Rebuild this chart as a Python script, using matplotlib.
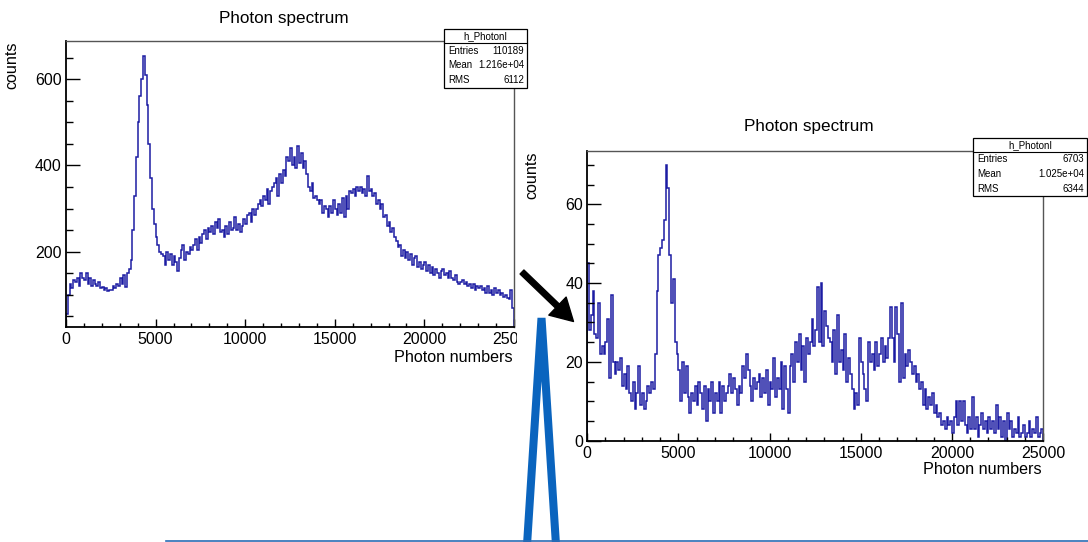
import numpy as np
import matplotlib
matplotlib.use("Agg")
import matplotlib.pyplot as plt
from matplotlib.patches import Rectangle, FancyArrowPatch
from matplotlib.lines import Line2D
from matplotlib.ticker import MultipleLocator

plt.rcParams['font.family'] = ['Liberation Sans', 'DejaVu Sans']

W, H = 1088, 542
BIN_WIDTH = 100
X_MAX = 25000

# large sample, bins of 100 photons from 0 to 25000
counts_big = [
    55, 100, 125, 115, 135, 130, 140, 120, 150, 140,
    135, 150, 125, 140, 120, 135, 125, 120, 130, 115,
    118, 112, 115, 108, 112, 110, 120, 115, 125, 120,
    140, 125, 145, 118, 150, 160, 180, 250, 330, 420,
    500, 560, 600, 655, 610, 540, 450, 370, 300, 265,
    235, 215, 200, 195, 190, 170, 200, 180, 195, 170,
    190, 175, 155, 185, 205, 215, 180, 200, 195, 210,
    205, 215, 230, 205, 235, 220, 240, 250, 230, 255,
    245, 260, 240, 270, 255, 275, 245, 250, 235, 260,
    240, 270, 250, 255, 280, 250, 265, 245, 260, 275,
    265, 285, 290, 270, 300, 285, 300, 310, 320, 305,
    330, 320, 345, 310, 340, 350, 360, 370, 330, 380,
    360, 390, 375, 420, 410, 440, 400, 420, 395, 445,
    405, 430, 395, 410, 380, 350, 340, 360, 325, 330,
    320, 310, 320, 290, 305, 300, 280, 305, 290, 320,
    300, 285, 310, 290, 325, 280, 330, 300, 340, 335,
    345, 330, 350, 340, 350, 335, 345, 330, 375, 340,
    345, 330, 335, 310, 320, 300, 310, 280, 285, 260,
    270, 245, 255, 235, 225, 210, 215, 190, 205, 185,
    200, 180, 195, 170, 185, 190, 165, 175, 160, 170,
    175, 155, 170, 150, 165, 145, 160, 150, 140, 155,
    160, 145, 150, 140, 155, 140, 135, 145, 130, 125,
    130, 135, 125, 130, 120, 125, 115, 125, 110, 120,
    115, 120, 110, 115, 105, 120, 105, 112, 100, 115,
    105, 110, 100, 105, 95, 100, 92, 90, 110, 70,
]

# small sample, same binning
counts_small = [
    45, 28, 32, 38, 27, 26, 35, 22, 24, 22,
    25, 31, 16, 37, 20, 17, 20, 18, 21, 14,
    17, 13, 19, 12, 10, 15, 8, 12, 19, 9,
    12, 8, 10, 14, 12, 15, 13, 22, 38, 47,
    49, 51, 56, 70, 64, 47, 35, 41, 25, 22,
    18, 10, 20, 12, 19, 11, 7, 12, 10, 14,
    9, 15, 12, 8, 14, 5, 13, 10, 15, 7,
    12, 10, 15, 7, 14, 10, 12, 14, 17, 12,
    16, 13, 9, 14, 12, 19, 16, 22, 18, 14,
    10, 16, 13, 15, 17, 11, 16, 12, 18, 9,
    15, 13, 21, 11, 16, 13, 20, 8, 19, 13,
    7, 19, 22, 15, 25, 20, 27, 18, 24, 15,
    26, 22, 25, 31, 24, 28, 39, 25, 40, 24,
    33, 29, 26, 25, 20, 28, 17, 32, 20, 23,
    18, 27, 15, 21, 17, 13, 8, 12, 9, 26,
    20, 17, 13, 10, 25, 20, 22, 18, 25, 19,
    22, 26, 20, 24, 21, 26, 34, 26, 20, 34,
    27, 15, 35, 16, 22, 19, 23, 20, 17, 19,
    15, 17, 13, 15, 9, 13, 8, 11, 9, 12,
    7, 9, 6, 7, 4, 5, 3, 6, 4, 5,
    2, 6, 10, 4, 10, 5, 10, 4, 2, 6,
    3, 11, 3, 6, 1, 4, 7, 3, 5, 2,
    6, 3, 5, 2, 9, 3, 6, 1, 5, 0,
    7, 3, 5, 1, 3, 2, 6, 1, 2, 4,
    1, 2, 5, 1, 3, 2, 6, 1, 2, 3,
]

hist_name = 'h_PhotonI'
stats_big = [('Entries', '110189'), ('Mean', '1.216e+04'), ('RMS', '6112')]
stats_small = [('Entries', '6703'), ('Mean', '1.025e+04'), ('RMS', '6344')]

LINE = '#1c1ca3'
edges = np.arange(0, X_MAX + BIN_WIDTH, BIN_WIDTH)


def fx(x):
    return x / W


def fy(y):
    return 1 - y / H


def add_axes_px(fig, l, t, r, b, z):
    return fig.add_axes([fx(l), fy(b), (r - l) / W, (b - t) / H], zorder=z)


def style_axes(ax, ymaj, ymin_step):
    ax.set_xlim(0, X_MAX)
    ax.xaxis.set_major_locator(MultipleLocator(5000))
    ax.xaxis.set_minor_locator(MultipleLocator(1000))
    ax.yaxis.set_major_locator(MultipleLocator(ymaj))
    ax.yaxis.set_minor_locator(MultipleLocator(ymin_step))
    ax.tick_params(axis='both', which='both', direction='in', top=False, right=False,
                   labelsize=11.5, width=1)
    ax.tick_params(axis='y', which='major', length=10, pad=3)
    ax.tick_params(axis='y', which='minor', length=5)
    ax.tick_params(axis='x', which='major', length=6, pad=4)
    ax.tick_params(axis='x', which='minor', length=3)
    for s in ['left', 'bottom']:
        ax.spines[s].set_linewidth(1.3)
        ax.spines[s].set_color('black')
    for s in ['top', 'right']:
        ax.spines[s].set_linewidth(1.0)
        ax.spines[s].set_color('#555555')


def stats_box(fig, l, t, r, b, name, rows, z):
    fig.add_artist(Rectangle((fx(l), fy(b)), (r - l) / W, (b - t) / H, transform=fig.transFigure,
                             facecolor='white', edgecolor='black', lw=0.9, zorder=z))
    head = t + 14
    fig.add_artist(Line2D([fx(l), fx(r)], [fy(head), fy(head)], transform=fig.transFigure,
                          color='black', lw=0.8, zorder=z + 0.1))
    fig.text(fx((l + r) / 2), fy(t + 7), name, ha='center', va='center', fontsize=7.0, zorder=z + 0.2)
    step = (b - head) / len(rows)
    for i, (k, v) in enumerate(rows):
        yy = head + step * (i + 0.5)
        fig.text(fx(l + 4), fy(yy), k, ha='left', va='center', fontsize=7.0, zorder=z + 0.2)
        fig.text(fx(r - 3), fy(yy), v, ha='right', va='center', fontsize=7.0, zorder=z + 0.2)


fig = plt.figure(figsize=(W / 100, H / 100), dpi=100)

# left (big sample)
ax1 = add_axes_px(fig, 66, 41.3, 514, 326.7, 1)
ax1.stairs(counts_big, edges, color=LINE, lw=1.1)
ax1.set_ylim(26, 688)
style_axes(ax1, 200, 50)
fig.text(fx(284), fy(18), 'Photon spectrum', ha='center', va='center', fontsize=12.3, zorder=1)
fig.text(fx(12), fy(65), 'counts', rotation=90, ha='center', va='center', fontsize=11.6)
fig.text(fx(513), fy(357), 'Photon numbers', ha='right', va='center', fontsize=11.6)
stats_box(fig, 444, 29, 527, 88, hist_name, stats_big, 1.5)

# white background of the second picture
fig.add_artist(Rectangle((fx(517), fy(490)), (W - 517) / W, (490 - 100) / H, transform=fig.transFigure,
                         facecolor='white', edgecolor='none', zorder=2))

# right (small sample)
ax2 = add_axes_px(fig, 587.2, 151, 1043.2, 440.7, 3)
ax2.stairs(counts_small, edges, color=LINE, lw=1.1)
ax2.set_ylim(0, 73.5)
style_axes(ax2, 20, 5)
fig.text(fx(809), fy(127), 'Photon spectrum', ha='center', va='center', fontsize=12.3, zorder=3)
fig.text(fx(532), fy(175), 'counts', rotation=90, ha='center', va='center', fontsize=11.6, zorder=3)
fig.text(fx(1042), fy(470), 'Photon numbers', ha='right', va='center', fontsize=11.6, zorder=3)
stats_box(fig, 973, 138, 1087, 196, hist_name, stats_small, 3.5)

# black arrow between the panels
fig.add_artist(FancyArrowPatch((fx(522), fy(272)), (fx(573.5), fy(321.5)), transform=fig.transFigure,
                               arrowstyle='simple,head_length=16,head_width=18,tail_width=4',
                               mutation_scale=1, shrinkA=0, shrinkB=0,
                               color='black', zorder=5))

# blue spike and base line at the bottom
fig.add_artist(Line2D([fx(527), fx(541.5), fx(556)], [fy(545), fy(318), fy(545)], transform=fig.transFigure,
                      color='#0a64be', lw=5.8, solid_joinstyle='miter', zorder=5))
fig.add_artist(Line2D([fx(166), fx(1088)], [fy(540.8), fy(540.8)], transform=fig.transFigure,
                      color='#2a6db5', lw=1.2, zorder=5))

fig.savefig('out.png', dpi=100)
